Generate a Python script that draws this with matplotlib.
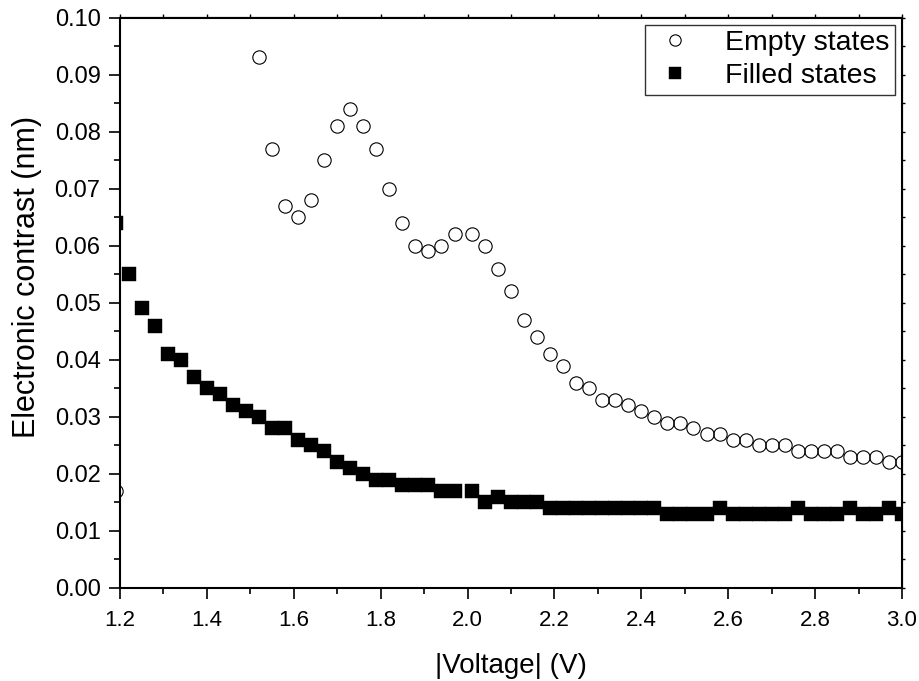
import matplotlib
matplotlib.use('Agg')
import matplotlib.pyplot as plt
from matplotlib.ticker import MultipleLocator, FormatStrFormatter

plt.rcParams['font.family'] = ['Liberation Sans', 'DejaVu Sans']

# ── data ─────────────────────────────────────────────────────────────────
empty_v = [1.19,
           1.52, 1.55, 1.58, 1.61, 1.64, 1.67, 1.70, 1.73, 1.76, 1.79,
           1.82, 1.85, 1.88, 1.91, 1.94, 1.97,
           2.01, 2.04, 2.07, 2.10, 2.13, 2.16, 2.19, 2.22, 2.25, 2.28,
           2.31, 2.34, 2.37, 2.40, 2.43, 2.46, 2.49, 2.52, 2.55, 2.58,
           2.61, 2.64, 2.67, 2.70, 2.73, 2.76, 2.79, 2.82, 2.85, 2.88,
           2.91, 2.94, 2.97, 3.00]
empty_c = [0.017,
           0.093, 0.077, 0.067, 0.065, 0.068, 0.075, 0.081, 0.084, 0.081, 0.077,
           0.070, 0.064, 0.060, 0.059, 0.060, 0.062,
           0.062, 0.060, 0.056, 0.052, 0.047, 0.044, 0.041, 0.039, 0.036, 0.035,
           0.033, 0.033, 0.032, 0.031, 0.030, 0.029, 0.029, 0.028, 0.027, 0.027,
           0.026, 0.026, 0.025, 0.025, 0.025, 0.024, 0.024, 0.024, 0.024, 0.023,
           0.023, 0.023, 0.022, 0.022]

filled_v = [1.19, 1.22, 1.25, 1.28, 1.31, 1.34, 1.37, 1.40, 1.43, 1.46,
            1.49, 1.52, 1.55, 1.58, 1.61, 1.64, 1.67, 1.70, 1.73, 1.76,
            1.79, 1.82, 1.85, 1.88, 1.91, 1.94, 1.97,
            2.01, 2.04, 2.07, 2.10, 2.13, 2.16, 2.19, 2.22, 2.25, 2.28,
            2.31, 2.34, 2.37, 2.40, 2.43, 2.46, 2.49, 2.52, 2.55, 2.58,
            2.61, 2.64, 2.67, 2.70, 2.73, 2.76, 2.79, 2.82, 2.85, 2.88,
            2.91, 2.94, 2.97, 3.00]
filled_c = [0.064, 0.055, 0.049, 0.046, 0.041, 0.040, 0.037, 0.035, 0.034, 0.032,
            0.031, 0.030, 0.028, 0.028, 0.026, 0.025, 0.024, 0.022, 0.021, 0.020,
            0.019, 0.019, 0.018, 0.018, 0.018, 0.017, 0.017,
            0.017, 0.015, 0.016, 0.015, 0.015, 0.015, 0.014, 0.014, 0.014, 0.014,
            0.014, 0.014, 0.014, 0.014, 0.014, 0.013, 0.013, 0.013, 0.013, 0.014,
            0.013, 0.013, 0.013, 0.013, 0.013, 0.014, 0.013, 0.013, 0.013, 0.014,
            0.013, 0.013, 0.014, 0.013]

# ── figure ───────────────────────────────────────────────────────────────
fig = plt.figure(figsize=(9.19, 6.81), dpi=100)
ax = fig.add_axes([120/919, 1 - 588/681, 782/919, 570.5/681])

ax.plot(empty_v, empty_c, 'o', ms=9.6, mfc='none', mec='black', mew=0.8,
        label='Empty states')
ax.plot(filled_v, filled_c, 's', ms=9.6, mfc='black', mec='black', mew=0.3,
        label='Filled states')

ax.set_xlim(1.2, 3.0)
ax.set_ylim(0.0, 0.10)
ax.xaxis.set_major_locator(MultipleLocator(0.2))
ax.xaxis.set_minor_locator(MultipleLocator(0.1))
ax.yaxis.set_major_locator(MultipleLocator(0.01))
ax.yaxis.set_minor_locator(MultipleLocator(0.005))
ax.xaxis.set_major_formatter(FormatStrFormatter('%.1f'))
ax.yaxis.set_major_formatter(FormatStrFormatter('%.2f'))

for s in ax.spines.values():
    s.set_linewidth(1.5)

ax.tick_params(axis='x', which='major', direction='out', length=8, width=1.2,
               labelsize=16, pad=8)
ax.tick_params(axis='y', which='major', direction='out', length=8, width=1.2,
               labelsize=17, pad=6)
ax.tick_params(which='minor', direction='out', length=4.5, width=1.2)

# short outward ticks on top and right
top = ax.secondary_xaxis('top')
top.xaxis.set_major_locator(MultipleLocator(0.1))
top.tick_params(direction='out', length=2.5, width=1.0, labeltop=False)
right = ax.secondary_yaxis('right')
right.yaxis.set_major_locator(MultipleLocator(0.005))
right.tick_params(direction='out', length=2.5, width=1.0, labelright=False)

ax.set_xlabel('|Voltage| (V)', fontsize=20, labelpad=16)
ax.set_ylabel('Electronic contrast (nm)', fontsize=22)
ax.yaxis.set_label_coords(-0.10, 0.545)

leg = ax.legend(loc='upper right', fontsize=20.5, frameon=True, fancybox=False,
                edgecolor='black', borderaxespad=0.25, borderpad=0.2,
                labelspacing=0.25, handlelength=1.7, handletextpad=0.9,
                markerscale=0.85)
leg.get_frame().set_linewidth(1.0)

fig.savefig('out.png', dpi=100)
